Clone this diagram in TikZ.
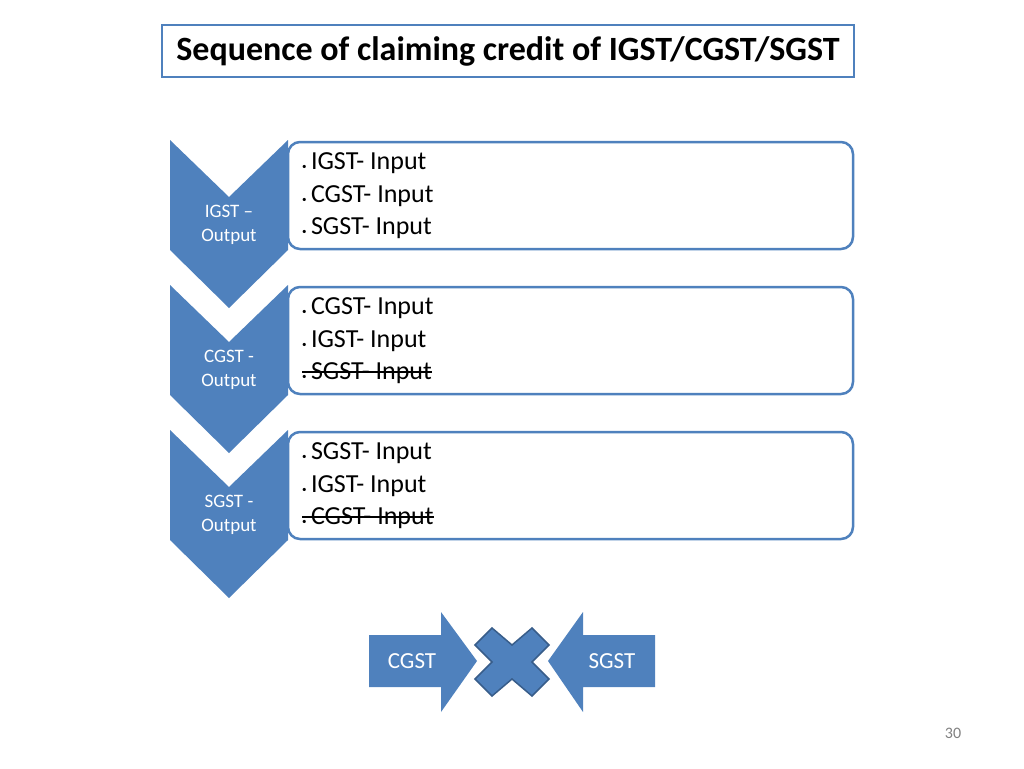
\documentclass[tikz,border=0pt]{standalone}
\usepackage{fontspec}
\setmainfont{Carlito}
\usepackage{tikz}
\definecolor{gblue}{RGB}{79,129,189}
\definecolor{gdark}{RGB}{56,93,138}
\tikzset{
  chev/.style={fill=gblue, draw=none},
  itembox/.style={draw=gblue, line width=2.5pt, rounded corners=12pt, fill=white},
  chevtext/.style={text=white, font=\fontsize{19}{24}\selectfont, align=center},
  itemtext/.style={anchor=west, font=\fontsize{26}{30}\selectfont, inner sep=0pt}
}
\begin{document}
\begin{tikzpicture}[x=1pt, y=-1pt]
\useasboundingbox (0,0) rectangle (1024,768);
\node[draw=gblue, line width=2pt, minimum width=692pt, minimum height=52pt, font=\bfseries\fontsize{34}{38}\selectfont] (title) at (508,51) {Sequence of claiming credit of IGST/CGST/SGST};
\foreach \dy/\out/\a/\b/\c/\strike in {0/IGST --/IGST/CGST/SGST/0, 145/CGST -/CGST/IGST/SGST/1, 290/SGST -/SGST/IGST/CGST/1} {
  \draw[itembox] (288,142+\dy) rectangle (853,249+\dy);
  \fill[chev] (170,140+\dy) -- (229,197+\dy) -- (288,140+\dy) -- (288,250+\dy) -- (229,308+\dy) -- (170,250+\dy) -- cycle;
  \node[chevtext] (out\dy) at (229,225+\dy) {\out\\Output};
  \node[itemtext] (a\dy) at (302,163+\dy) {{\small•}\,\a- Input};
  \node[itemtext] (b\dy) at (302,196+\dy) {{\small•}\,\b- Input};
  \node[itemtext] (c\dy) at (302,228+\dy) {{\small•}\,\c- Input};
  \ifnum\strike=1 \draw[line width=1.3pt] ([yshift=1pt]c\dy.west) -- ([yshift=1pt]c\dy.east); \fi
}
% CGST and SGST arrows with cross
\fill[gblue] (369,635) -- (441,635) -- (441,612) -- (477,661) -- (441,712) -- (441,687) -- (369,687) -- cycle;
\node[text=white, font=\fontsize{23}{27}\selectfont] (cg) at (412,661) {CGST};
\fill[gblue] (655,635) -- (583,635) -- (583,612) -- (548,661) -- (583,712) -- (583,687) -- (655,687) -- cycle;
\node[text=white, font=\fontsize{23}{27}\selectfont] (sg) at (612,661) {SGST};
\draw[fill=gblue, draw=gdark, line width=1.5pt, shift={(512,662)}]
  (-20,-34) -- (0,-17) -- (20,-34) -- (37,-17) -- (20,0) -- (37,17) -- (20,34) -- (0,17) -- (-20,34) -- (-37,17) -- (-20,0) -- (-37,-17) -- cycle;
\node[text=gray, font=\fontsize{16}{19}\selectfont] (pg) at (953,733) {30};
\end{tikzpicture}
\end{document}
